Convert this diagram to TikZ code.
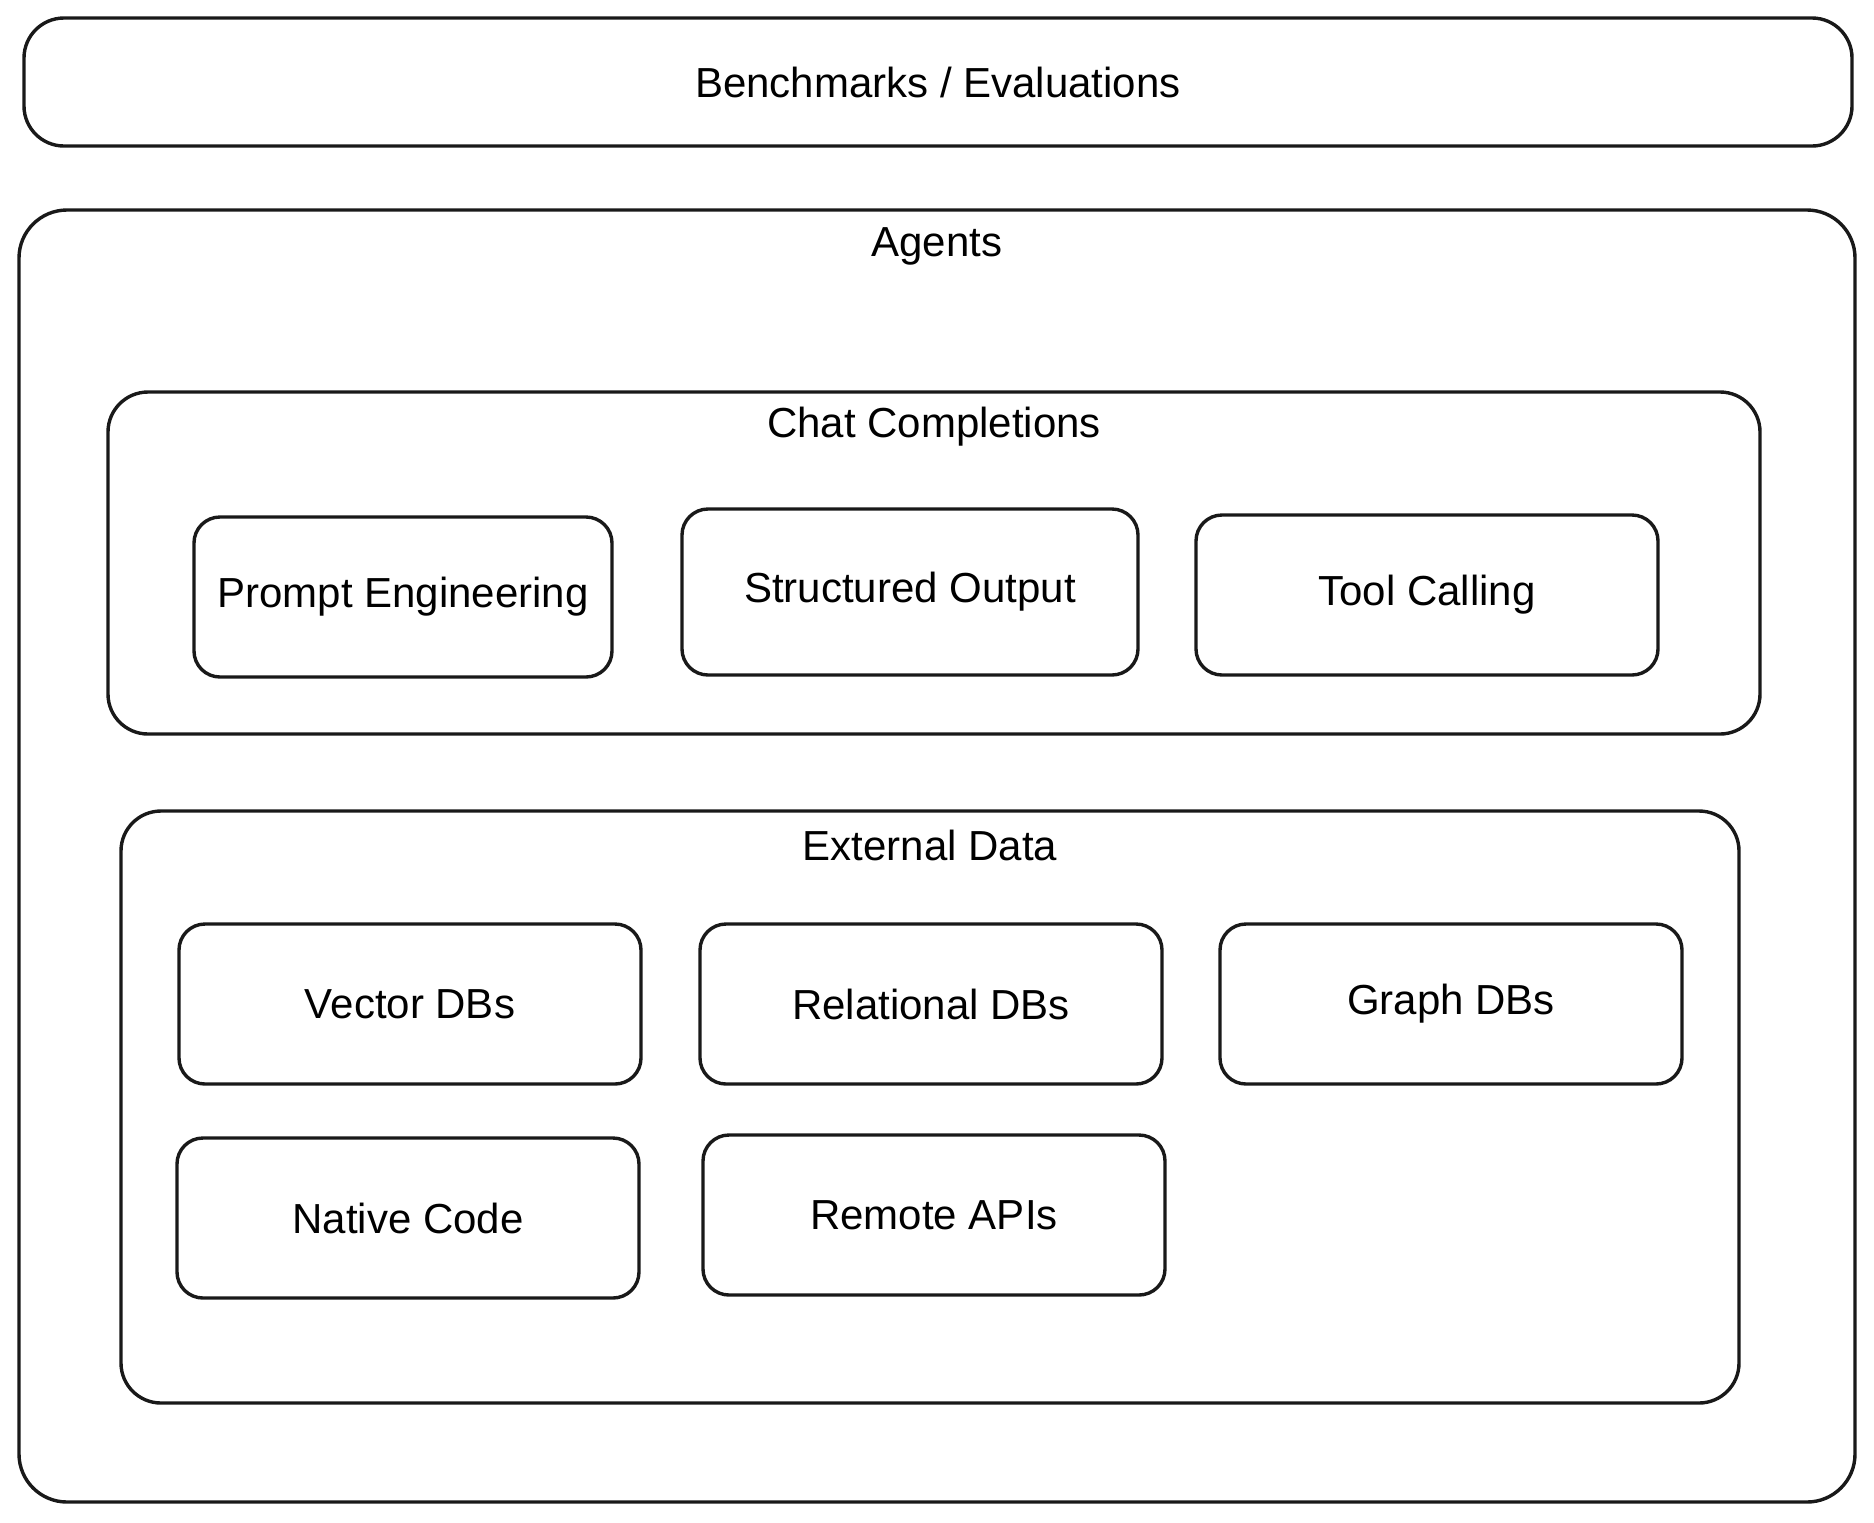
\documentclass[tikz,border=0pt]{standalone}
\usepackage{fontspec}
\setmainfont{Liberation Sans}
\begin{document}
\begin{tikzpicture}[x=0.5pt,y=-0.5pt,
  frame/.style={draw=black!90,line width=1.7pt,rounded corners=20pt,inner sep=0pt},
  item/.style={draw=black!90,line width=1.7pt,rounded corners=13pt,inner sep=0pt,
    minimum width=231pt,minimum height=80pt,font=\fontsize{21}{25}\selectfont},
  lbl/.style={inner sep=0pt,font=\fontsize{21}{25}\selectfont}]
\useasboundingbox (0,0) rectangle (1874,1522);
\fill[white] (0,0) rectangle (1874,1522);
% Benchmarks
\node[frame,minimum width=914pt,minimum height=64pt,font=\fontsize{21}{25}\selectfont] (bench) at (938,82) {Benchmarks / Evaluations};
% Agents
\node[frame,rounded corners=24pt,minimum width=918pt,minimum height=646pt] (agents) at (937,856) {};
\node[lbl] (agentsl) at (937,246) {Agents};
% Chat completions
\node[frame,minimum width=826pt,minimum height=171pt] (chat) at (934,563) {};
\node[lbl] (chatl) at (934,427) {Chat Completions};
\node[item,minimum width=209pt] (pe) at (403,597) {Prompt Engineering};
\node[item,minimum width=228pt,minimum height=83pt] (so) at (910,592) {Structured Output};
\node[item] (tc) at (1427,595) {Tool Calling};
% External data
\node[frame,minimum width=809pt,minimum height=296pt] (ext) at (930,1107) {};
\node[lbl] (extl) at (930,845) {External Data};
\node[item] (vec) at (410,1004) {Vector DBs};
\node[item] (rel) at (931,1004) {Relational DBs};
\node[item] (graph) at (1451,1004) {Graph DBs};
\node[item] (nat) at (408,1218) {Native Code};
\node[item] (rem) at (934,1215) {Remote APIs};
\end{tikzpicture}
\end{document}
